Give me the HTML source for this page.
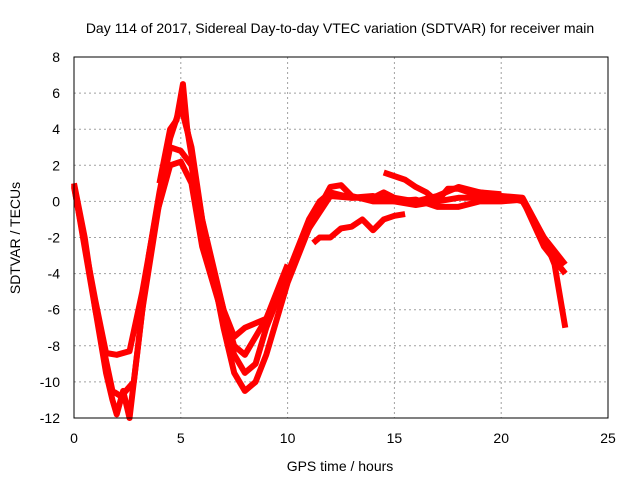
<!DOCTYPE html>
<html><head><meta charset="utf-8"><style>
body{margin:0;background:#fff}
svg{display:block;font-family:"Liberation Sans",sans-serif;font-size:14px}
</style></head><body>
<svg id="c" width="640" height="480">
<text x="340" y="33" text-anchor="middle">Day 114 of 2017, Sidereal Day-to-day VTEC variation (SDTVAR) for receiver main</text>
<text x="340" y="471" text-anchor="middle">GPS time / hours</text>
<text transform="translate(20,238) rotate(-90)" text-anchor="middle">SDTVAR / TECUs</text>
<g id="grid"></g><g id="series"></g>
<rect x="74" y="57" width="534" height="361" fill="none" stroke="#000" stroke-width="1"/>
</svg>
<script>
const xTicks=[0,5,10,15,20,25];
const yTicks=[8,6,4,2,0,-2,-4,-6,-8,-10,-12];
const seriesA=[[0,1],[0.5,-2],[1,-6],[1.5,-9.5],[1.8,-11],[2,-11.8],[2.3,-10.5],[2.6,-12],[3,-8],[3.5,-3],[4,0.5],[4.5,3.5],[5,5.3],[5.5,3],[6,-1],[6.5,-4],[7,-7],[7.5,-9.5],[8,-10.5],[8.5,-10],[9,-8.5],[9.5,-6.5],[10,-4.5],[10.5,-3],[11,-1.5],[11.5,-0.3],[12,0.8],[12.5,0.9],[13,0.3],[14,0],[15,0],[16,-0.2],[17,0],[18,0.2],[19,0.2],[20,0.3],[21,0],[22,-2],[22.5,-3.5],[23,-7]];
const seriesB=[[0,0.8],[1,-5.5],[1.5,-8.4],[2,-8.5],[2.6,-8.3],[3.2,-5],[3.8,-1],[4.5,2],[5,2.2],[5.5,1],[6,-2.5],[7,-6.5],[7.5,-8.5],[8,-9.5],[8.5,-9],[9,-7],[10,-4],[11,-1.5],[12,0.3],[13,0.2],[14,0.3],[15,0],[16,0.1],[17,-0.3],[18,-0.3],[19,0],[20,0],[21,0.1],[22,-2.5],[23,-4]];
const seriesC=[[0,0.9],[1,-6],[1.8,-10.5],[2.2,-10.8],[2.8,-10],[3.2,-6],[4,0],[4.5,3],[5,2.8],[5.5,2],[6,-1.5],[7,-6],[7.5,-8],[8,-8.5],[8.5,-7.5],[9,-6.5],[10,-4],[11,-1],[11.5,0],[12,0.5],[13,0.2],[14,0.2],[14.5,0.5],[15,0.2],[16,0],[17,0.3],[18,0.8],[19,0.5],[20,0.3],[21,0.2],[22,-2],[23,-3.5]];
const seriesD=[[4,1],[4.5,4],[4.8,4.5],[5.1,6.5],[5.3,4],[6,-1],[7,-6],[7.5,-7.5],[8,-7],[9,-6.5],[10,-3.5]];
const seriesE=[[11.2,-2.3],[11.5,-2],[12,-2],[12.5,-1.5],[13,-1.4],[13.5,-1],[14,-1.6],[14.5,-1],[15,-0.8],[15.5,-0.7]];
const seriesF=[[14.5,1.6],[15,1.4],[15.5,1.2],[16,0.8],[16.5,0.5],[17,0],[17.5,0.7],[18,0.7],[18.5,0.5],[19,0.5],[20,0.4]];
const NS="http://www.w3.org/2000/svg";
const X=v=>74+v*534/25, Y=v=>57+(8-v)*361/20;
const svg=document.getElementById('c'),g=document.getElementById('grid'),s=document.getElementById('series');
function mk(t,a,p){const e=document.createElementNS(NS,t);for(const k in a)e.setAttribute(k,a[k]);p.appendChild(e);return e;}
xTicks.forEach(t=>{
 if(t>0&&t<25){const l=mk('line',{x1:X(t),x2:X(t),y1:57,y2:418,stroke:'#a0a0a0','stroke-dasharray':'2,3'},g);
 
 }
 const tx=mk('text',{x:X(t),y:443,'text-anchor':'middle'},svg);tx.textContent=t;
 
 
});
yTicks.forEach(t=>{
 if(t<8&&t>-12){const l=mk('line',{x1:74,x2:608,y1:Y(t),y2:Y(t),stroke:'#a0a0a0','stroke-dasharray':'2,3'},g);
 
 }
 const tx=mk('text',{x:60,y:Y(t)+5,'text-anchor':'end'},svg);tx.textContent=t;
 
 
});
[seriesA,seriesB,seriesC,seriesD,seriesE,seriesF].forEach((d,i)=>{
 const p=mk('polyline',{points:d.map(q=>X(q[0])+','+Y(q[1])).join(' '),fill:'none',stroke:'#ff0000','stroke-width':6,'stroke-linejoin':'round'},s);
 
 
});
</script>
</body></html>
